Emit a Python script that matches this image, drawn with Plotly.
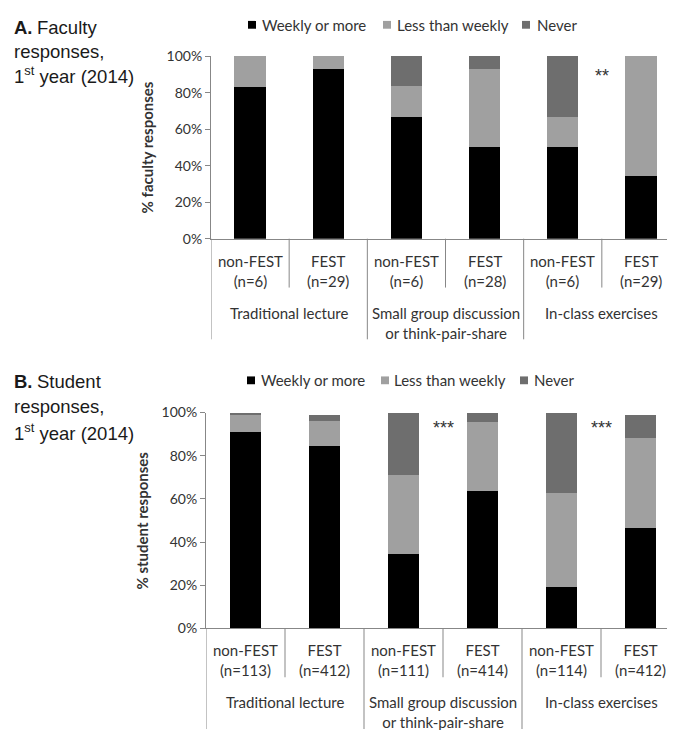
import plotly.graph_objects as go

W, H = 675, 730

# ---------------- data ----------------
groups = ["Traditional lecture", "Small group discussion<br>or think-pair-share", "In-class exercises"]
series_names = ["Weekly or more", "Less than weekly", "Never"]
series_colors = ["#000000", "#a0a0a0", "#6e6e6e"]

fac_labels = ["non-FEST<br>(n=6)", "FEST<br>(n=29)", "non-FEST<br>(n=6)", "FEST<br>(n=28)", "non-FEST<br>(n=6)", "FEST<br>(n=29)"]
fac_weekly = [83.3, 93.1, 66.7, 50.0, 50.0, 34.5]
fac_less = [16.7, 6.9, 16.7, 42.9, 16.7, 65.5]
fac_never = [0.0, 0.0, 16.6, 7.1, 33.3, 0.0]
fac_sig_pos = [4.5]
fac_sig_y = [91.5]
fac_sig_txt = ["**"]

stu_labels = ["non-FEST<br>(n=113)", "FEST<br>(n=412)", "non-FEST<br>(n=111)", "FEST<br>(n=414)", "non-FEST<br>(n=114)", "FEST<br>(n=412)"]
stu_weekly = [90.9, 84.4, 34.5, 63.5, 19.4, 46.3]
stu_less = [8.5, 11.9, 36.4, 32.3, 43.4, 41.9]
stu_never = [0.6, 2.5, 28.8, 4.0, 37.0, 10.6]
stu_sig_pos = [2.5, 4.5]
stu_sig_y = [94.5, 94.5]
stu_sig_txt = ["***", "***"]

# ---------------- layout helpers ----------------
def py(px):
    return 1 - px / H

def pxw(px):
    return px / W

TXT = "#333333"
AX = "#878787"
FONT = "Lato"
TITLE_FONT = "Liberation Sans"

panels = [
    dict(x0=203, x1=672, ytop=40, ybot=227, xa="x", ya="y",
         labels=fac_labels, vals=[fac_weekly, fac_less, fac_never],
         sig=(fac_sig_pos, fac_sig_y, fac_sig_txt),
         ytitle="% faculty responses", ytitle_x=139,
         letter="A.", title=["Faculty", "responses,", "1<sup>st</sup> year (2014)"], title_y=[11, 35, 59],
         legend_y=8, legend_sq=[240, 375, 514], legend_tx=[252, 387, 527]),
    dict(x0=198, x1=672, ytop=405, ybot=626, xa="x2", ya="y2",
         labels=stu_labels, vals=[stu_weekly, stu_less, stu_never],
         sig=(stu_sig_pos, stu_sig_y, stu_sig_txt),
         ytitle="% student responses", ytitle_x=134,
         letter="B.", title=["Student", "responses,", "1<sup>st</sup> year (2014)"], title_y=[373, 399, 425],
         legend_y=372, legend_sq=[239, 373, 512], legend_tx=[251, 384, 524]),
]

fig = go.Figure()
annotations = []
shapes = []
layout_axes = {}

for k, p in enumerate(panels):
    n = len(p["labels"])
    xs = list(range(n))
    for s, name in enumerate(series_names):
        fig.add_trace(go.Bar(
            x=xs, y=[v / 100 for v in p["vals"][s]], name=name,
            marker=dict(color=series_colors[s], line=dict(width=0)),
            xaxis=p["xa"], yaxis=p["ya"], showlegend=False,
            hoverinfo="skip"))
    suffix = "" if k == 0 else "2"
    xdom = [pxw(p["x0"]), pxw(p["x1"])]
    ydom = [py(p["ybot"]), py(p["ytop"])]
    layout_axes["xaxis" + suffix] = dict(
        domain=xdom, range=[-0.5, n - 0.5], showticklabels=False, ticks="",
        showline=True, linecolor=AX, linewidth=1, showgrid=False, zeroline=False,
        anchor=p["ya"], fixedrange=True)
    layout_axes["yaxis" + suffix] = dict(
        domain=ydom, range=[0, 1], dtick=0.2, tickformat=".0%",
        ticks="outside", ticklen=5, tickcolor=AX, tickwidth=1,
        showline=True, linecolor=AX, linewidth=1, showgrid=False, zeroline=False,
        tickfont=dict(family=FONT, size=14, color=TXT), anchor=p["xa"], fixedrange=True)

    ph = p["ybot"] - p["ytop"]
    yref_dom = p["ya"] + " domain"
    # dividers
    for i in range(n + 1):
        xpos = i - 0.5
        major = (i % 2 == 0)
        depth = 103 if major else 50
        shapes.append(dict(type="line", xref=p["xa"], yref=yref_dom,
                           x0=xpos, x1=xpos, y0=0, y1=-depth / ph,
                           line=dict(color=AX, width=1)))
    # inner labels
    for i, lab in enumerate(p["labels"]):
        annotations.append(dict(xref=p["xa"], yref=yref_dom, x=i, y=0,
                                yanchor="top", yshift=-11, text=lab, showarrow=False,
                                font=dict(family=FONT, size=15, color=TXT), align="center"))
    # group labels
    for g, glab in enumerate(groups):
        annotations.append(dict(xref=p["xa"], yref=yref_dom, x=2 * g + 0.5, y=0,
                                yanchor="top", yshift=-63, text=glab, showarrow=False,
                                font=dict(family=FONT, size=15, color=TXT), align="center"))
    # significance
    for xs_, ys_, t in zip(*p["sig"]):
        annotations.append(dict(xref=p["xa"], yref=p["ya"], x=xs_, y=ys_ / 100,
                                text=t, showarrow=False, yanchor="middle", yshift=-4,
                                font=dict(family=TITLE_FONT, size=18, color=TXT)))
    # y title
    annotations.append(dict(xref="paper", yref="paper", x=pxw(p["ytitle_x"]),
                            y=py((p["ytop"] + p["ybot"]) / 2), textangle=-90,
                            text=p["ytitle"], showarrow=False,
                            xanchor="center", yanchor="middle",
                            font=dict(family=FONT, size=15, color=TXT, weight="bold")))
    # panel title
    annotations.append(dict(xref="paper", yref="paper", x=pxw(4), y=py(p["title_y"][0]),
                            xanchor="left", yanchor="middle", text=p["letter"], showarrow=False,
                            font=dict(family=TITLE_FONT, size=18.5, color="#1a1a1a", weight="bold")))
    for j, (line, yy) in enumerate(zip(p["title"], p["title_y"])):
        annotations.append(dict(xref="paper", yref="paper", x=pxw(27 if j == 0 else 4), y=py(yy),
                                xanchor="left", yanchor="middle", text=line, showarrow=False,
                                font=dict(family=TITLE_FONT, size=18.5, color="#1a1a1a")))
    # legend
    for s, name in enumerate(series_names):
        sq = p["legend_sq"][s]
        ly = p["legend_y"]
        shapes.append(dict(type="rect", xref="paper", yref="paper",
                           x0=pxw(sq), x1=pxw(sq + 8), y0=py(ly + 4), y1=py(ly - 4),
                           fillcolor=series_colors[s], line=dict(width=0)))
        annotations.append(dict(xref="paper", yref="paper", x=pxw(p["legend_tx"][s]), y=py(ly),
                                xanchor="left", yanchor="middle", text=name, showarrow=False,
                                font=dict(family=FONT, size=15, color=TXT)))

fig.update_layout(
    width=W, height=H, margin=dict(l=0, r=0, t=0, b=0),
    paper_bgcolor="white", plot_bgcolor="white",
    barmode="stack", bargap=0.6,
    annotations=annotations, shapes=shapes, showlegend=False,
    **layout_axes)

fig.write_html("out.html")
